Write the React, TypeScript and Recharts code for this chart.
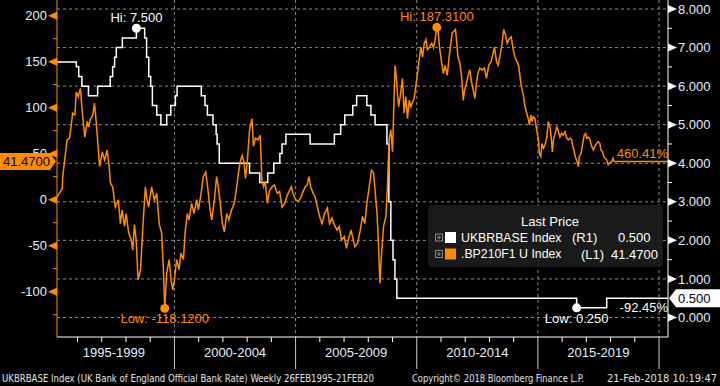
import React from 'react';
import { ComposedChart, Line, XAxis, YAxis, CartesianGrid, ReferenceLine, ReferenceDot } from 'recharts';

const ORANGE = '#ff8c00';
const WHITE = '#ffffff';
const TICK_TEXT = '#e4efff';
const GRID = '#8a8a8a';
const FONT = '"Liberation Sans", Arial, sans-serif';
const NARROW = '"Liberation Sans Narrow", "DejaVu Sans Condensed", "Liberation Sans", sans-serif';

// UKBRBASE Index (right axis), decimal year of each rate change
const rateDates = [
  1995.153, 1995.95, 1996.05, 1996.18, 1996.45, 1996.83, 1997.35, 1997.45, 1997.53, 1997.6,
  1997.85, 1998.43, 1998.77, 1998.85, 1998.94, 1999.02, 1999.09, 1999.27, 1999.44, 1999.68,
  1999.85, 2000.04, 2000.11, 2001.11, 2001.26, 2001.36, 2001.59, 2001.72, 2001.76, 2001.85,
  2003.1, 2003.52, 2003.85, 2004.1, 2004.35, 2004.44, 2004.6, 2005.6, 2006.6, 2006.86,
  2007.03, 2007.36, 2007.52, 2007.94, 2008.11, 2008.28, 2008.77, 2008.85, 2008.93, 2009.02,
  2009.1, 2009.18, 2016.6, 2017.84, 2018.14,
];
const rateValues = [
  6.625, 6.5, 6.25, 6.0, 5.75, 6.0, 6.25, 6.5, 6.75, 7.0,
  7.25, 7.5, 7.25, 6.75, 6.25, 6.0, 5.5, 5.25, 5.0, 5.25,
  5.5, 5.75, 6.0, 5.75, 5.5, 5.25, 5.0, 4.75, 4.5, 4.0,
  3.75, 3.5, 3.75, 4.0, 4.25, 4.5, 4.75, 4.5, 4.75, 5.0,
  5.25, 5.5, 5.75, 5.5, 5.25, 5.0, 4.5, 3.0, 2.0, 1.5,
  1.0, 0.5, 0.25, 0.5, 0.5,
];

// .BP210F1 U Index (left axis), one line per year
const spreadDates = [
  1995.16, 1995.3, 1995.37, 1995.39, 1995.47, 1995.57, 1995.67, 1995.75, 1995.8, 1995.89, 1995.95,
  1996.03, 1996.12, 1996.19, 1996.3, 1996.4, 1996.46, 1996.53, 1996.63, 1996.7, 1996.77, 1996.85, 1996.91,
  1997.02, 1997.12, 1997.22, 1997.29, 1997.36, 1997.45, 1997.56, 1997.68, 1997.77, 1997.84, 1997.94,
  1998.01, 1998.11, 1998.22, 1998.28, 1998.35, 1998.42, 1998.5, 1998.6, 1998.69, 1998.8, 1998.87, 1998.93,
  1999.06, 1999.17, 1999.27, 1999.37, 1999.47, 1999.54, 1999.6, 1999.68, 1999.78, 1999.86, 1999.93,
  2000.0, 2000.09, 2000.19, 2000.27, 2000.37, 2000.44, 2000.53, 2000.6, 2000.71, 2000.81, 2000.92, 2000.99,
  2001.1, 2001.19, 2001.29, 2001.37, 2001.47, 2001.54, 2001.65, 2001.74, 2001.81, 2001.89, 2001.98,
  2002.06, 2002.16, 2002.25, 2002.36, 2002.47, 2002.57, 2002.64, 2002.73, 2002.8, 2002.87, 2002.93,
  2003.01, 2003.1, 2003.2, 2003.26, 2003.34, 2003.45, 2003.54, 2003.61, 2003.68, 2003.75, 2003.83, 2003.93,
  2004.03, 2004.13, 2004.24, 2004.34, 2004.44, 2004.55, 2004.66, 2004.75, 2004.82, 2004.89,
  2005.0, 2005.1, 2005.21, 2005.31, 2005.4, 2005.48, 2005.55, 2005.62, 2005.72, 2005.81, 2005.9, 2005.99,
  2006.09, 2006.2, 2006.31, 2006.4, 2006.5, 2006.58, 2006.71, 2006.8, 2006.9,
  2007.01, 2007.1, 2007.17, 2007.29, 2007.35, 2007.45, 2007.56, 2007.67, 2007.76, 2007.86, 2007.94,
  2008.04, 2008.13, 2008.22, 2008.29, 2008.36, 2008.42, 2008.48, 2008.55, 2008.63, 2008.73, 2008.79, 2008.86, 2008.93,
  2009.0, 2009.07, 2009.11, 2009.18, 2009.25, 2009.32, 2009.41, 2009.48, 2009.55, 2009.62, 2009.69, 2009.76, 2009.82, 2009.89, 2009.96,
  2010.03, 2010.1, 2010.17, 2010.24, 2010.31, 2010.38, 2010.44, 2010.51, 2010.62, 2010.69, 2010.76, 2010.83, 2010.88, 2010.94,
  2011.01, 2011.1, 2011.17, 2011.26, 2011.33, 2011.39, 2011.46, 2011.53, 2011.6, 2011.64, 2011.7, 2011.78, 2011.85, 2011.92, 2011.97,
  2012.05, 2012.11, 2012.19, 2012.25, 2012.33, 2012.4, 2012.46, 2012.52, 2012.6, 2012.7, 2012.79, 2012.88, 2012.97,
  2013.07, 2013.15, 2013.21, 2013.29, 2013.36, 2013.43, 2013.52, 2013.59, 2013.66, 2013.73, 2013.83, 2013.9, 2013.98,
  2014.07, 2014.14, 2014.21, 2014.28, 2014.35, 2014.4, 2014.47, 2014.54, 2014.61, 2014.65, 2014.71, 2014.76, 2014.81, 2014.88, 2014.95,
  2015.02, 2015.06, 2015.12, 2015.17, 2015.23, 2015.3, 2015.37, 2015.43, 2015.5, 2015.54, 2015.6, 2015.64, 2015.71, 2015.78, 2015.85, 2015.91, 2015.98,
  2016.05, 2016.12, 2016.19, 2016.26, 2016.33, 2016.4, 2016.44, 2016.49, 2016.54, 2016.6, 2016.67, 2016.71, 2016.78, 2016.85, 2016.91, 2016.97,
  2017.01, 2017.08, 2017.15, 2017.22, 2017.29, 2017.35, 2017.42, 2017.49, 2017.56, 2017.6, 2017.67, 2017.72, 2017.78, 2017.84, 2017.9, 2017.97,
  2018.04, 2018.1, 2018.14,
];
const spreadValues = [
  3, 9, 12, 25, 43, 65, 67, 83, 94, 92, 117,
  112, 121, 97, 68, 85, 79, 87, 92, 105, 85, 58, 36,
  52, 43, 54, 40, 18, 14, -8, 0, -26, -11, -29,
  -15, -36, -44, -55, -27, -44, -87, -76, -33, 14, 0, -8,
  14, 0, 7, -26, -36, -73, -118.12, -80, -65, -87, -98,
  -87, -65, -76, -58, -65, -36, -15, -22, -4, -15, 0, -11,
  7, 25, 30, 14, -11, -22, 0, 25, 14, -4, -26,
  -35, -15, -22, -11, -4, 14, 29, 43, 48, 40, 23,
  43, 76, 88, 58, 67, 65, 70, 21, 14, 20, -4, 10,
  14, 16, 7, 9, -8, -4, 5, 10, 14, 7,
  0, -2, 2, 9, 14, 16, 25, 14, 7, 3, -8, -18,
  -26, -15, -9, -26, -20, -26, -33, -29, -44,
  -40, -53, -44, -33, -40, -51, -47, -33, -18, -26, -4,
  14, 32, 29, 7, -15, -47, -91, -58, -29, -18, 14, 65, 76,
  52, 116, 146, 126, 101, 112, 132, 94, 112, 88, 108, 101, 106, 110, 123,
  137, 152, 166, 155, 170, 174, 163, 165, 170, 165, 174, 187.31, 184, 166,
  152, 137, 146, 135, 154, 166, 181, 183, 185, 174, 155, 148, 134, 108, 119,
  126, 134, 141, 130, 119, 110, 126, 137, 143, 141, 143, 132, 146,
  150, 159, 166, 150, 146, 155, 170, 185, 179, 170, 175, 177, 163,
  154, 150, 145, 130, 119, 114, 101, 94, 87, 81, 92, 85, 90, 88, 76,
  65, 50, 47, 61, 56, 60, 68, 85, 79, 70, 52, 65, 72, 79, 74, 68, 72,
  70, 74, 67, 65, 67, 65, 58, 54, 47, 43, 36, 47, 50, 61, 70, 72,
  67, 68, 65, 58, 54, 58, 61, 63, 61, 54, 52, 47, 45, 43, 38, 40,
  41, 45, 41.47,
];

const periodLabels = ['1995-1999', '2000-2004', '2005-2009', '2010-2014', '2015-2019'];
const periodMids = [1997.5, 2002.5, 2007.5, 2012.5, 2017.5];
const yearTicks = [
  1996, 1997, 1998, 1999, 2000, 2001, 2002, 2003, 2004, 2005, 2006, 2007, 2008,
  2009, 2010, 2011, 2012, 2013, 2014, 2015, 2016, 2017, 2018, 2019, 2020,
];
const yearGrid = [2000, 2005, 2010, 2015, 2020];
const leftTicks = [-125, -100, -75, -50, -25, 0, 25, 50, 75, 100, 125, 150, 175, 200];
const rightTicks = [0, 0.5, 1, 1.5, 2, 2.5, 3, 3.5, 4, 4.5, 5, 5.5, 6, 6.5, 7, 7.5, 8];
const rightGrid = [0, 1, 2, 3, 4, 5, 6, 7, 8];

const X_DOMAIN = [1995.153, 2020.37];
const LEFT_DOMAIN = [-149.2, 217];
const RIGHT_DOMAIN = [-0.506, 8.234];

const zip = (ts: number[], vs: number[]) => ts.map((t, i) => ({ t, v: vs[i] }));
const rateData = zip(rateDates, rateValues);
const spreadData = zip(spreadDates, spreadValues);

const lastRate = rateValues[rateValues.length - 1];
const lastRateDate = rateDates[rateDates.length - 1];
const lastSpread = spreadValues[spreadValues.length - 1];
const lastSpreadDate = spreadDates[spreadDates.length - 1];
const hiRate = Math.max(...rateValues);
const loRate = Math.min(...rateValues);
const hiSpread = Math.max(...spreadValues);
const loSpread = Math.min(...spreadValues);

const LeftTick = ({ x, y, payload }: any) => {
  const v = payload.value;
  if (v === lastSpread) {
    return (
      <g>
        <polygon points={`0,${y - 8.5} ${x - 7},${y - 8.5} ${x - 1},${y} ${x - 7},${y + 8.5} 0,${y + 8.5}`} fill={ORANGE} />
        <text x={3} y={y} dy="0.36em" fill="#000" fontSize={13} fontFamily={FONT}>{lastSpread.toFixed(4)}</text>
      </g>
    );
  }
  if (v % 50 === 0) {
    return (
      <g>
        <polygon points={`${x},${y - 4} ${x - 9},${y} ${x},${y + 4}`} fill={ORANGE} />
        <text x={x - 10} y={y} dy="0.36em" textAnchor="end" fill={TICK_TEXT} fontSize={13} fontFamily={FONT}>{v}</text>
      </g>
    );
  }
  return <line x1={x - 4} x2={x} y1={y} y2={y} stroke={ORANGE} />;
};

const RightTick = ({ x, y, payload }: any) => {
  const v = payload.value;
  if (v === lastRate) {
    return (
      <g>
        <polygon points={`${x + 1},${y} ${x + 8},${y - 9} 720,${y - 9} 720,${y + 9} ${x + 8},${y + 9}`} fill={WHITE} />
        <text x={x + 10} y={y} dy="0.36em" fill="#000" fontSize={13} fontFamily={FONT}>{lastRate.toFixed(3)}</text>
      </g>
    );
  }
  if (Number.isInteger(v)) {
    return (
      <g>
        <polygon points={`${x},${y - 4} ${x + 9},${y} ${x},${y + 4}`} fill={WHITE} />
        <text x={x + 10} y={y} dy="0.36em" fill={TICK_TEXT} fontSize={13} fontFamily={FONT}>{v.toFixed(3)}</text>
      </g>
    );
  }
  return <line x1={x} x2={x + 4} y1={y} y2={y} stroke={WHITE} />;
};

const XTick = ({ x, y, payload }: any) => {
  const v = payload.value;
  const i = periodMids.indexOf(v);
  if (i >= 0) {
    return (
      <text x={x} y={y + 20} textAnchor="middle" fill={TICK_TEXT} fontSize={13} fontFamily={FONT}>
        {periodLabels[i]}
      </text>
    );
  }
  const major = v % 5 === 0;
  return <line x1={x} x2={x} y1={y} y2={y + (major ? 32 : 5)} stroke={major ? '#c8c8c8' : WHITE} />;
};

const Marker = ({ cx, cy, color, text, below }: any) => (
  <g>
    <circle cx={cx} cy={cy} r={4.5} fill={color} />
    <text x={cx} y={below ? cy + 15 : cy - 6} textAnchor="middle" fill={color} fontSize={13} fontFamily={FONT}>
      {text}
    </text>
  </g>
);

const EndLabel = ({ cx, cy, color, text, dy }: any) => (
  <text x={cx} y={cy + dy} textAnchor="end" fill={color} fontSize={13} fontFamily={FONT}>{text}</text>
);

const LegendBox = () => (
  <g fontFamily={FONT} fontSize={13}>
    <rect x={428} y={205} width={235} height={62} rx={4} fill="#1c1c1c" fillOpacity={0.93} />
    <text x={550} y={226} textAnchor="middle" fill={WHITE}>Last Price</text>
    {[
      { cy: 237.5, color: WHITE, name: 'UKBRBASE Index', axis: '(R1)', axisX: 572, val: lastRate.toFixed(3), valX: 618 },
      { cy: 254, color: ORANGE, name: '.BP210F1 U Index', axis: '(L1)', axisX: 581, val: lastSpread.toFixed(4), valX: 611 },
    ].map((r) => (
      <g key={r.name}>
        <rect x={435.5} y={r.cy - 3.5} width={7} height={7} fill="none" stroke="#8a8a8a" />
        <line x1={437} x2={441} y1={r.cy} y2={r.cy} stroke="#8a8a8a" />
        <line x1={439} x2={439} y1={r.cy - 2} y2={r.cy + 2} stroke="#8a8a8a" />
        <rect x={445} y={r.cy - 5.5} width={11} height={11} fill={r.color} />
        <text x={461} y={r.cy} dy="0.36em" fill={WHITE} fontSize={12.3}>{r.name}</text>
        <text x={r.axisX} y={r.cy} dy="0.36em" fill={WHITE}>{r.axis}</text>
        <text x={r.valX} y={r.cy} dy="0.36em" fill={WHITE}>{r.val}</text>
      </g>
    ))}
  </g>
);

export default function App() {
  return (
    <div style={{ position: 'relative', width: 720, height: 386, background: '#000', fontFamily: FONT }}>
      <style>{'body{margin:0;background:#000}'}</style>
      <ComposedChart width={720} height={386} margin={{ top: 0, right: 0, bottom: 0, left: 0 }}>
        <CartesianGrid
          yAxisId="R"
          horizontalValues={rightGrid}
          verticalValues={yearGrid}
          stroke={GRID}
          strokeDasharray="3 3"
        />
        <XAxis
          dataKey="t"
          type="number"
          domain={X_DOMAIN}
          allowDataOverflow
          ticks={[...yearTicks, ...periodMids]}
          interval={0}
          height={49}
          tickSize={0}
          tickMargin={0}
          tickLine={false}
          axisLine={{ stroke: WHITE }}
          tick={<XTick />}
        />
        <YAxis
          yAxisId="L"
          orientation="left"
          type="number"
          domain={LEFT_DOMAIN}
          allowDataOverflow
          ticks={[...leftTicks, lastSpread]}
          interval={0}
          width={57}
          tickSize={0}
          tickMargin={0}
          tickLine={false}
          axisLine={{ stroke: ORANGE }}
          tick={<LeftTick />}
        />
        <YAxis
          yAxisId="R"
          orientation="right"
          type="number"
          domain={RIGHT_DOMAIN}
          allowDataOverflow
          ticks={rightTicks}
          interval={0}
          width={52}
          tickSize={0}
          tickMargin={0}
          tickLine={false}
          axisLine={{ stroke: WHITE }}
          tick={<RightTick />}
        />
        <Line
          yAxisId="R"
          data={rateData}
          dataKey="v"
          type="stepAfter"
          stroke={WHITE}
          strokeWidth={1.5}
          dot={false}
          isAnimationActive={false}
        />
        <Line
          yAxisId="L"
          data={spreadData}
          dataKey="v"
          type="linear"
          stroke={ORANGE}
          strokeWidth={1.5}
          dot={false}
          isAnimationActive={false}
        />
        <ReferenceLine
          yAxisId="R"
          segment={[{ x: lastRateDate, y: lastRate }, { x: X_DOMAIN[1], y: lastRate }]}
          stroke={WHITE}
          strokeWidth={1.5}
        />
        <ReferenceLine
          yAxisId="L"
          segment={[{ x: lastSpreadDate, y: lastSpread }, { x: X_DOMAIN[1], y: lastSpread }]}
          stroke={ORANGE}
          strokeWidth={1.5}
        />
        <ReferenceDot
          yAxisId="R"
          x={rateDates[rateValues.indexOf(hiRate)]}
          y={hiRate}
          r={4}
          shape={(p: any) => <Marker {...p} color={WHITE} text={`Hi: ${hiRate.toFixed(3)}`} />}
        />
        <ReferenceDot
          yAxisId="R"
          x={rateDates[rateValues.indexOf(loRate)]}
          y={loRate}
          r={4}
          shape={(p: any) => <Marker {...p} color={WHITE} text={`Low: ${loRate.toFixed(3)}`} below />}
        />
        <ReferenceDot
          yAxisId="L"
          x={spreadDates[spreadValues.indexOf(hiSpread)]}
          y={hiSpread}
          r={4}
          shape={(p: any) => <Marker {...p} color={ORANGE} text={`Hi: ${hiSpread.toFixed(4)}`} />}
        />
        <ReferenceDot
          yAxisId="L"
          x={spreadDates[spreadValues.indexOf(loSpread)]}
          y={loSpread}
          r={4}
          shape={(p: any) => <Marker {...p} color={ORANGE} text={`Low: ${loSpread.toFixed(4)}`} below />}
        />
        <ReferenceDot
          yAxisId="L"
          x={X_DOMAIN[1]}
          y={lastSpread}
          r={0}
          shape={(p: any) => <EndLabel {...p} color={ORANGE} text="460.41%" dy={-4} />}
        />
        <ReferenceDot
          yAxisId="R"
          x={X_DOMAIN[1]}
          y={lastRate}
          r={0}
          shape={(p: any) => <EndLabel {...p} color={WHITE} text="-92.45%" dy={14} />}
        />
      </ComposedChart>
      <svg width={720} height={386} style={{ position: 'absolute', left: 0, top: 0, pointerEvents: 'none' }}>
        <LegendBox />
        <g fontFamily={NARROW} fontSize={10} fill="#e0e0e0">
          <text x={2} y={382} textLength={372} lengthAdjust="spacingAndGlyphs">
            UKBRBASE Index (UK Bank of England Official Bank Rate)  Weekly 26FEB1995-21FEB20
          </text>
          <text x={412} y={382} textLength={172} lengthAdjust="spacingAndGlyphs">
            Copyright© 2018 Bloomberg Finance L.P.
          </text>
          <text x={607} y={382} textLength={110} lengthAdjust="spacingAndGlyphs">
            21-Feb-2018 10:19:47
          </text>
        </g>
      </svg>
    </div>
  );
}
